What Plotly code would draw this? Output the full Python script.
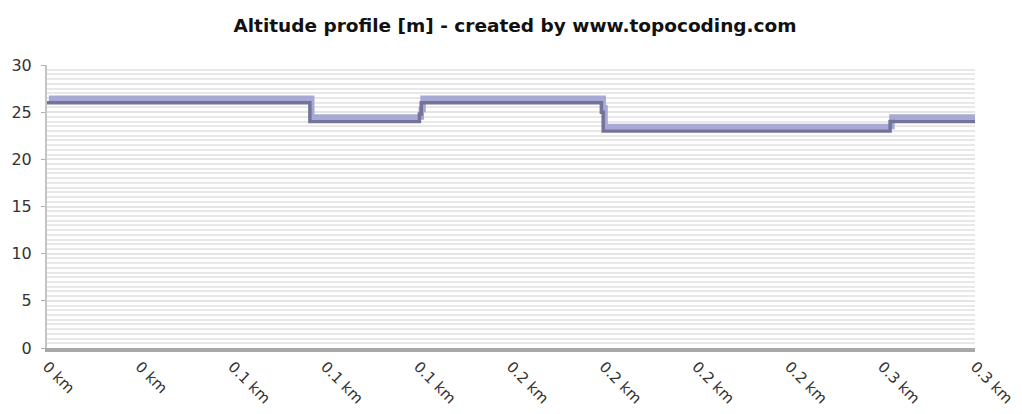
import plotly.graph_objects as go

# Data (distance in km, altitude in m)
distance_km = [0.0, 0.0864, 0.1224, 0.1230, 0.1822, 0.1828, 0.2771, 0.305]
altitude_m = [26.0, 24.0, 24.8, 26.0, 25.0, 23.0, 24.0, 24.0]
total_km = 0.305
x_tick_labels = ["0 km", "0 km", "0.1 km", "0.1 km", "0.1 km", "0.2 km",
                 "0.2 km", "0.2 km", "0.2 km", "0.3 km", "0.3 km"]
y_ticks = [0, 5, 10, 15, 20, 25, 30]

x_tick_vals = [i * total_km / 10 for i in range(len(x_tick_labels))]

# 3D-style offset for the upper band
dx = 0.0006
dy = 0.48

fig = go.Figure()
fig.add_trace(go.Scatter(
    x=[d + dx for d in distance_km], y=[a + dy for a in altitude_m],
    mode="lines", line=dict(color="#a8a8d4", width=5.5, shape="hv"),
    hoverinfo="skip", showlegend=False))
fig.add_trace(go.Scatter(
    x=distance_km, y=altitude_m,
    mode="lines", line=dict(color="#74749a", width=3.5, shape="hv"),
    showlegend=False))

# the page body has an 8px default margin, so the figure is sized to fit
fig.update_layout(
    width=1014, height=406,
    margin=dict(l=39, r=47, t=57, b=66),
    paper_bgcolor="white", plot_bgcolor="white",
    title=dict(text="<b>Altitude profile [m] - created by www.topocoding.com</b>",
               x=0.5, xanchor="center", y=0.958, yanchor="middle",
               font=dict(family="DejaVu Sans", size=18.5, color="#111111")),
    font=dict(family="DejaVu Sans", size=15, color="#333333"),
)
fig.update_xaxes(
    range=[0, total_km], tickmode="array", tickvals=x_tick_vals, ticktext=x_tick_labels,
    tickangle=45, showgrid=False, zeroline=False, automargin=False,
    showline=True, linecolor="#a8a8a8", linewidth=4,
    ticks="", tickfont=dict(size=15, color="#333333"))
fig.update_yaxes(
    range=[0, 30], tickmode="array", tickvals=y_ticks, automargin=False,
    showgrid=True, gridcolor="#e4e4e4", gridwidth=2,
    minor=dict(dtick=0.5, showgrid=True, gridcolor="#e8e8e8", gridwidth=2),
    zeroline=False, showline=True, linecolor="#c4c4c4", linewidth=2,
    ticks="outside", ticklen=4, tickcolor="#b0b0b0", ticklabelstandoff=6,
    tickfont=dict(size=16, color="#333333"))

fig.write_html("out.html")
